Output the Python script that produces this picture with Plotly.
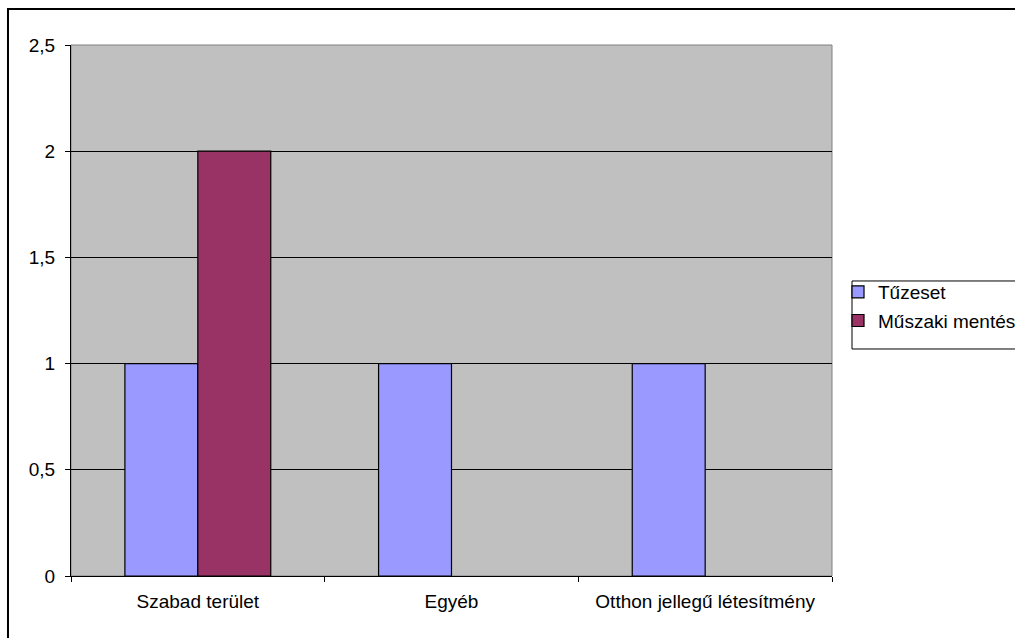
import plotly.graph_objects as go

categories = ["Szabad terület", "Egyéb", "Otthon jellegű létesítmény"]
tuzeset = [1, 1, 1]
muszaki = [2, None, None]
y_ticks = [0, 0.5, 1, 1.5, 2, 2.5]
y_tick_labels = ["0", "0,5", "1", "1,5", "2", "2,5"]

FONT = "Arial, Liberation Sans, sans-serif"

fig = go.Figure()
fig.add_trace(go.Bar(x=categories, y=tuzeset, name="Tűzeset", legendgroup="a",
                     marker=dict(color="#9999FF", line=dict(color="black", width=1.2))))
fig.add_trace(go.Bar(x=categories, y=muszaki, name="Műszaki mentés", legendgroup="b",
                     marker=dict(color="#993366", line=dict(color="black", width=1.2))))

fig.update_layout(
    width=1015, height=638,
    margin=dict(l=71, r=183, t=45, b=62, autoexpand=False),
    paper_bgcolor="white", plot_bgcolor="#C0C0C0",
    barmode="group", bargap=0.425, bargroupgap=0,
    font=dict(family=FONT, size=19, color="black"),
    separators=",.",
    showlegend=True,
    legend=dict(x=1.0079, xanchor="left", y=0.5707, yanchor="top",
                borderwidth=0, bgcolor="rgba(0,0,0,0)",
                tracegroupgap=1, font=dict(size=19)),
    xaxis=dict(type="category", showgrid=False, showline=True, linecolor="black", linewidth=1,
               ticks="outside", tickson="boundaries", ticklen=5, tickcolor="black",
               ticklabelstandoff=8, range=[-0.5, 2.5]),
    yaxis=dict(range=[0, 2.5], tickvals=y_ticks, ticktext=y_tick_labels,
               showgrid=True, gridcolor="black", gridwidth=1, zeroline=False,
               showline=True, linecolor="black", linewidth=1,
               ticks="outside", ticklen=5, tickcolor="black", ticklabelstandoff=6),
    shapes=[
        dict(type="rect", xref="paper", yref="paper", x0=0, x1=1, y0=0, y1=1,
             line=dict(color="#808080", width=1), layer="below"),
        dict(type="rect", xref="paper", yref="paper", x0=1.0263, x1=1.4, y0=0.4275, y1=0.5556,
             line=dict(color="black", width=1), layer="below"),
        dict(type="rect", xref="paper", yref="paper", x0=-0.0828, x1=1.4, y0=-0.3, y1=1.0678,
             line=dict(color="black", width=2)),
    ],
)

fig.write_html("out.html", config={"displayModeBar": False},
               post_script="document.body.style.margin='0';document.body.style.overflow='hidden';")
